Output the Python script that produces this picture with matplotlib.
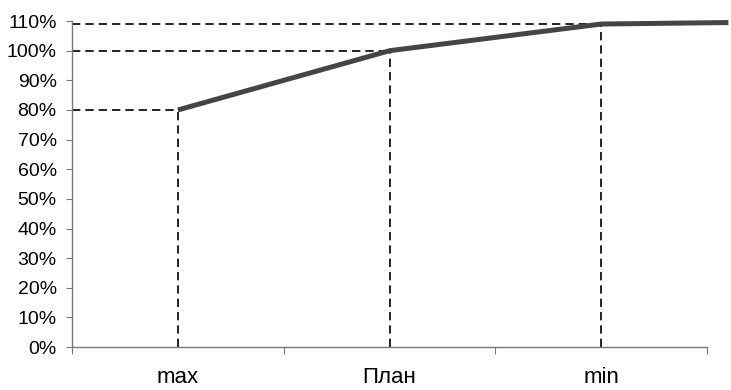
import matplotlib.pyplot as plt
import numpy as np
from matplotlib.ticker import PercentFormatter

plt.rcParams['font.family'] = ['Liberation Sans', 'DejaVu Sans']

categories = ['max', 'План', 'min']
values = [0.80, 1.00, 1.09]
# the curve keeps rising a little past the last category
tail_pos = 2.6
tail_value = 1.095
yticks = np.arange(0, 1.11, 0.10)

fig = plt.figure(figsize=(7.31, 3.90), dpi=100)
ax = fig.add_axes([0.0985, 0.110, 0.869, 0.836])

x = np.arange(len(categories))

# guide lines from each point to both axes
for xi, v in zip(x, values):
    ax.plot([-0.5, xi], [v, v], color='black', lw=1.2, dashes=(5, 3), zorder=2)
    ax.plot([xi, xi], [0, v], color='black', lw=1.2, dashes=(5, 3), zorder=2)

ax.plot(list(x) + [tail_pos], values + [tail_value], color='#454545', lw=3.6,
        solid_capstyle='butt', zorder=3, clip_on=False)

ax.set_xlim(-0.5, len(categories) - 0.5)
ax.set_ylim(0, 1.10)
ax.set_yticks(yticks)
ax.yaxis.set_major_formatter(PercentFormatter(1.0, decimals=0))

ax.set_xticks(x)
ax.set_xticklabels(categories, fontsize=16)
ax.set_xticks(np.arange(-0.5, len(categories)), minor=True)
ax.tick_params(axis='x', which='major', length=0, pad=14)
ax.tick_params(axis='x', which='minor', length=5, width=0.8, color='#777777',
               direction='out')
ax.tick_params(axis='y', length=4, width=0.8, color='#777777', labelsize=14,
               pad=7)

for side in ('top', 'right'):
    ax.spines[side].set_visible(False)
for side in ('left', 'bottom'):
    ax.spines[side].set_color('#777777')
    ax.spines[side].set_linewidth(1.0)

fig.savefig('out.png', dpi=100)
